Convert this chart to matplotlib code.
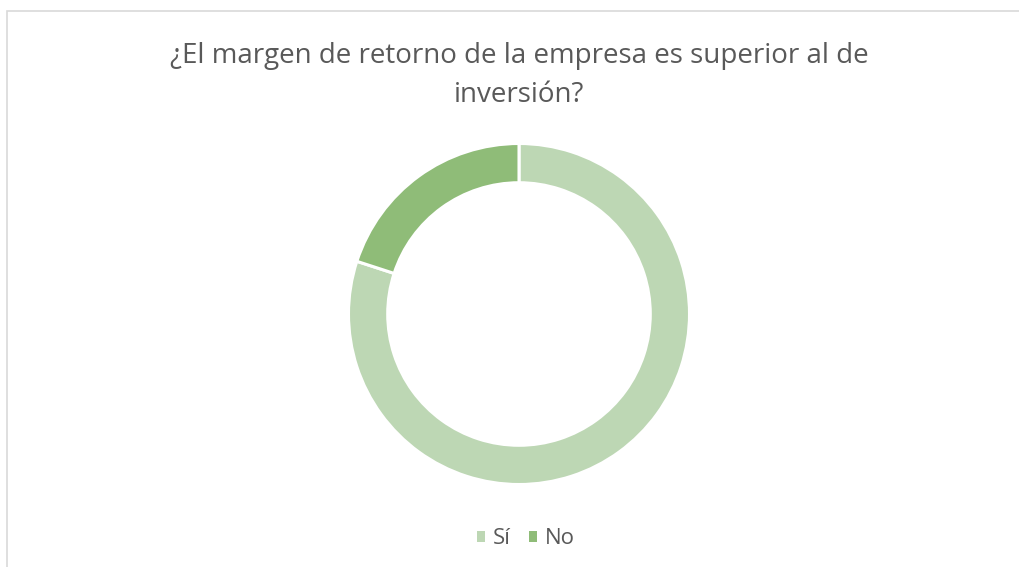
import matplotlib.pyplot as plt
from matplotlib.patches import Rectangle, Patch

# Datos
etiquetas = ["Sí", "No"]
valores = [80, 20]
colores = ["#BDD7B4", "#8FBC78"]
titulo = "¿El margen de retorno de la empresa es superior al de\ninversión?"

W, H = 1019, 567
fig = plt.figure(figsize=(W / 100, H / 100), dpi=100)
plt.rcParams["font.family"] = ["Open Sans", "DejaVu Sans"]

# marco gris del gráfico
fig.patches.append(Rectangle((6.5 / W, -0.1), 1.2, 1 - 10.5 / H + 0.1,
                             transform=fig.transFigure, fill=False,
                             edgecolor="#D9D9D9", lw=1.2))

# donut
cx, cy, r = 519, 314, 170.5
ax = fig.add_axes([(cx - r) / W, (H - cy - r) / H, 2 * r / W, 2 * r / H])
wedges, _ = ax.pie(valores, colors=colores, startangle=90, counterclock=False,
                   radius=1, wedgeprops=dict(width=0.23, edgecolor="white", linewidth=2.2))
ax.set_xlim(-1, 1)
ax.set_ylim(-1, 1)
ax.set_aspect("equal")
ax.axis("off")

fig.text(cx / W, 1 - 75.5 / H, titulo, ha="center", va="center",
         fontsize=20, color="#595959", linespacing=1.54)

handles = [Patch(facecolor=c, edgecolor="none") for c in colores]
fig.legend(handles, etiquetas, loc="center", bbox_to_anchor=(526 / W, 1 - 539 / H),
           ncol=2, frameon=False, fontsize=16, labelcolor="#595959",
           handlelength=0.38, handleheight=0.38, handletextpad=0.35,
           columnspacing=0.8)

fig.savefig("out.png", dpi=100, facecolor="white")
